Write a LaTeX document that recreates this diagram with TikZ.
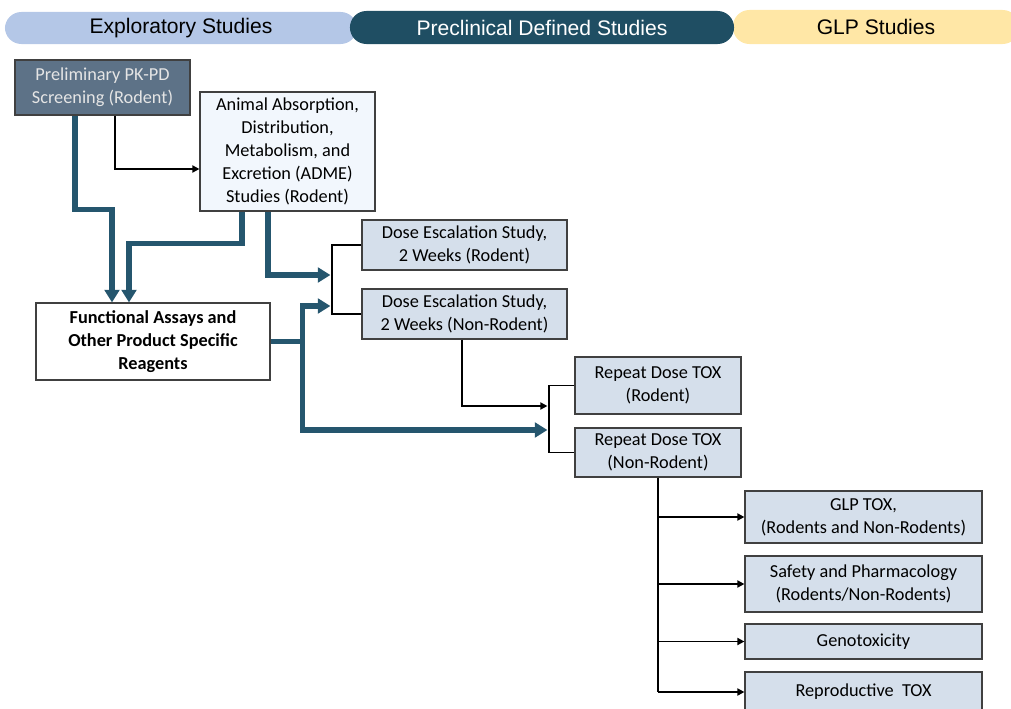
\documentclass[tikz,border=0pt]{standalone}
\usepackage{fontspec}
\setmainfont{Carlito}
\newfontfamily\hdfont{Liberation Sans}
\usetikzlibrary{arrows.meta,calc}
\definecolor{tealc}{HTML}{1F4E63}
\definecolor{lineteal}{HTML}{25566E}
\definecolor{expblue}{HTML}{B4C7E7}
\definecolor{glpyel}{HTML}{FFE7A6}
\definecolor{slate}{HTML}{5D7287}
\definecolor{boxblue}{HTML}{D5DFEB}
\definecolor{paleblue}{HTML}{F2F7FD}

\begin{document}
\begin{tikzpicture}[x=0.025cm,y=-0.025cm,
    hnode/.style={rounded corners=0.41cm,inner sep=0pt,font=\hdfont\fontsize{15}{17}\selectfont},
    bnode/.style={draw=black!75,line width=0.8pt,fill=boxblue,align=center,inner sep=2pt,font=\fontsize{13}{16.3}\selectfont},
    tline/.style={draw=lineteal,line width=3.6pt,-{Triangle[length=9pt,width=10.5pt]}},
    bline/.style={draw=black,line width=1.4pt,-{Triangle[length=5pt,width=5pt]}}]
    \useasboundingbox (0,0) rectangle (1011,709);

    % phase headers
    \node[hnode,fill=expblue,minimum width=8.8cm,minimum height=0.8cm] (exp) at (181,28) {Exploratory Studies};
    \node[hnode,fill=glpyel,minimum width=7.15cm,minimum height=0.85cm] (glph) at (876,27) {GLP Studies};
    \node[hnode,fill=tealc,text=white,minimum width=9.6cm,minimum height=0.825cm] (pre) at (542,27.5) {Preclinical Defined Studies};

    % study boxes
    \node[bnode,fill=slate,text=black!10,minimum width=4.375cm,minimum height=1.375cm] (pkpd) at (102.5,87.5) {Preliminary PK-PD\\Screening (Rodent)};
    \node[bnode,fill=paleblue,minimum width=4.375cm,minimum height=2.975cm] (adme) at (287.5,151.5) {Animal Absorption,\\Distribution,\\Metabolism, and\\Excretion (ADME)\\Studies (Rodent)};
    \node[bnode,fill=white,font=\bfseries\fontsize{13}{16.3}\selectfont,minimum width=5.85cm,minimum height=1.925cm] (func) at (153,341.5) {Functional Assays and\\Other Product Specific\\Reagents};
    \node[bnode,minimum width=5.125cm,minimum height=1.25cm] (doser) at (464.5,245) {Dose Escalation Study,\\2 Weeks (Rodent)};
    \node[bnode,minimum width=5.125cm,minimum height=1.25cm] (dosen) at (464.5,314) {Dose Escalation Study,\\2 Weeks (Non-Rodent)};
    \node[bnode,minimum width=4.15cm,minimum height=1.425cm] (repr) at (658,385.5) {Repeat Dose TOX\\(Rodent)};
    \node[bnode,minimum width=4.15cm,minimum height=1.225cm] (repn) at (658,452.5) {Repeat Dose TOX\\(Non-Rodent)};
    \node[bnode,minimum width=5.925cm,minimum height=1.3cm] (glp) at (863.5,517) {GLP TOX,\\(Rodents and Non-Rodents)};
    \node[bnode,minimum width=5.925cm,minimum height=1.4cm] (safe) at (863.5,584) {Safety and Pharmacology\\(Rodents/Non-Rodents)};
    \node[bnode,minimum width=5.925cm,minimum height=0.875cm] (geno) at (863.5,641.5) {Genotoxicity};
    \node[bnode,minimum width=5.925cm,minimum height=1.0cm] (repro) at (863.5,692) {Reproductive~ TOX};

    % brackets
    \draw[black,line width=1.4pt] (doser.west) -- ++(-29,0) |- (dosen.west);
    \draw[black,line width=1.4pt] (repr.west) -- ++(-25,0) |- (repn.west);
    \coordinate (dosein) at ($(doser.west)!0.5!(dosen.west)+(-31,0)$);
    \coordinate (repin) at ($(repr.west)!0.5!(repn.west)+(-27,0)$);

    % thin connectors
    \draw[bline] ($(pkpd.south)+(12.5,0)$) |- ($(adme.west)+(0,17.5)$);
    \draw[bline] ($(dosen.south)+(-2.5,0)$) |- ($(repin)+(0,-13)$);
    \draw[black,line width=1.4pt] (repn.south) -- (repn.south |- repro.west);
    \foreach \n in {glp,safe,geno,repro}
        \draw[bline] (repn.south |- \n.west) -- (\n.west);

    % thick connectors
    \draw[tline] ($(pkpd.south)+(-27.5,0)$) -- ++(0,94) -| ($(func.north)+(-41,0)$);
    \draw[tline] ($(adme.south)+(-45.5,0)$) -- ++(0,32) -| ($(func.north)+(-24,0)$);
    \draw[tline] ($(adme.south)+(-19.5,0)$) |- ($(dosein)+(0,-4.5)$);
    \draw[tline] (func.east) -- ++(32,0) |- ($(dosein)+(0,26.5)$);
    \draw[tline] ($(func.east)+(32,0)$) |- ($(repin)+(0,11)$);
\end{tikzpicture}
\end{document}
